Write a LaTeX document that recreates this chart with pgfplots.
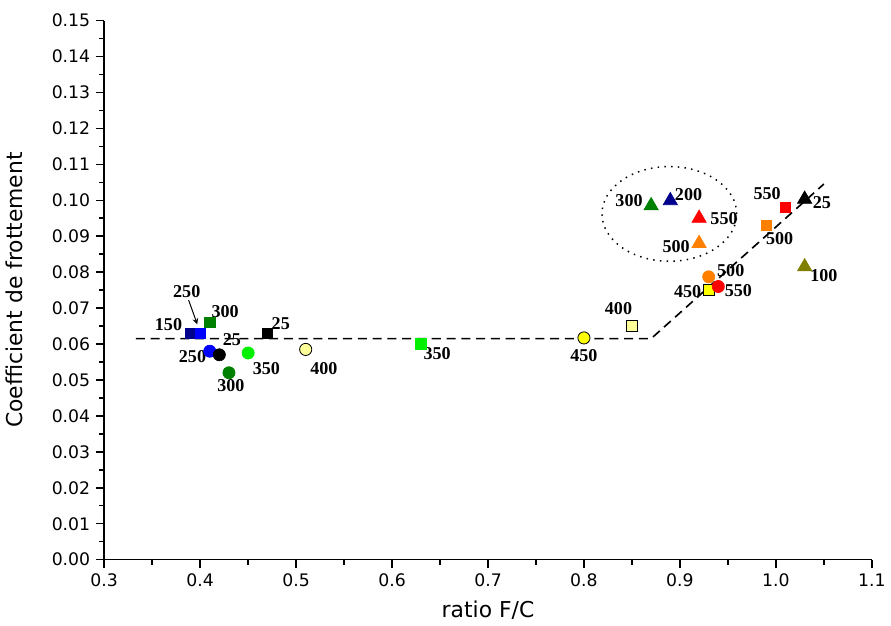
\documentclass[border=0pt]{standalone}
\usepackage{fontspec}
\setmainfont{DejaVu Sans}
\newfontfamily\lblfont{Liberation Serif}
\usepackage{pgfplots}
\pgfplotsset{compat=1.18}
\definecolor{navyA}{RGB}{0,0,140}
\definecolor{blueA}{RGB}{0,0,255}
\definecolor{greenA}{RGB}{0,128,0}
\definecolor{limeA}{RGB}{0,240,0}
\definecolor{lyel}{RGB}{255,255,153}
\definecolor{yelA}{RGB}{255,255,0}
\definecolor{orA}{RGB}{255,128,0}
\definecolor{redA}{RGB}{255,0,0}
\definecolor{oliveA}{RGB}{128,128,0}
\begin{document}
\begin{tikzpicture}
\begin{axis}[
  scale only axis, width=467pt, height=328pt,
  xmin=0.3, xmax=1.1, ymin=0, ymax=0.15,
  axis lines=left, axis line style={-, line width=0.9pt},
  tick align=outside, tick style={black, line width=0.9pt},
  major tick length=5pt, minor tick length=3pt,
  xtick={0.3,0.4,...,1.1}, ytick={0,0.01,...,0.15},
  minor x tick num=1, minor y tick num=1,
  xticklabel style={/pgf/number format/.cd, fixed, fixed zerofill, precision=1},
  yticklabel style={/pgf/number format/.cd, fixed, fixed zerofill, precision=2},
  /pgf/number format/assume math mode=true,
  ticklabel style={font=\fontsize{10.5}{12}\selectfont},
  xlabel={ratio F/C}, ylabel={Coefficient de frottement},
  label style={font=\fontsize{13.3}{15}\selectfont},
  xlabel style={yshift=-2pt},
  ylabel style={yshift=11pt},
  clip=false,
]
% dashed trend line
\addplot[black, line width=1pt, dash pattern=on 5.5pt off 3.5pt] coordinates {(0.333,0.0615)(0.87,0.0615)(1.05,0.1045)};
% squares
\addplot[only marks, mark=square*, mark size=3.2pt, navyA, mark options={fill=navyA, draw=navyA}] coordinates {(0.39,0.063)};
\addplot[only marks, mark=square*, mark size=3.2pt, blueA, mark options={fill=blueA, draw=blueA}] coordinates {(0.40,0.063)};
\addplot[only marks, mark=square*, mark size=3.2pt, greenA, mark options={fill=greenA, draw=greenA}] coordinates {(0.41,0.066)};
\addplot[only marks, mark=square*, mark size=3.2pt, black, mark options={fill=black, draw=black}] coordinates {(0.47,0.063)};
\addplot[only marks, mark=square*, mark size=3.2pt, limeA, mark options={fill=limeA, draw=limeA}] coordinates {(0.63,0.060)};
\addplot[only marks, mark=square*, mark size=3.2pt, black, mark options={fill=lyel, draw=black, line width=0.5pt}] coordinates {(0.85,0.065)};
\addplot[only marks, mark=square*, mark size=3.2pt, black, mark options={fill=yelA, draw=black, line width=0.5pt}] coordinates {(0.93,0.075)};
\addplot[only marks, mark=square*, mark size=3.2pt, orA, mark options={fill=orA, draw=orA}] coordinates {(0.99,0.093)};
\addplot[only marks, mark=square*, mark size=3.2pt, redA, mark options={fill=redA, draw=redA}] coordinates {(1.01,0.098)};
% circles
\addplot[only marks, mark=*, mark size=3.7pt, blueA, mark options={fill=blueA, draw=blueA}] coordinates {(0.41,0.058)};
\addplot[only marks, mark=*, mark size=3.7pt, black, mark options={fill=black, draw=black}] coordinates {(0.42,0.057)};
\addplot[only marks, mark=*, mark size=3.7pt, greenA, mark options={fill=greenA, draw=greenA}] coordinates {(0.43,0.052)};
\addplot[only marks, mark=*, mark size=3.7pt, limeA, mark options={fill=limeA, draw=limeA}] coordinates {(0.45,0.0575)};
\addplot[only marks, mark=*, mark size=3.7pt, black, mark options={fill=lyel, draw=black, line width=0.5pt}] coordinates {(0.51,0.0585)};
\addplot[only marks, mark=*, mark size=3.7pt, black, mark options={fill=yelA, draw=black, line width=0.5pt}] coordinates {(0.80,0.0617)};
\addplot[only marks, mark=*, mark size=3.7pt, orA, mark options={fill=orA, draw=orA}] coordinates {(0.93,0.0787)};
\addplot[only marks, mark=*, mark size=3.7pt, redA, mark options={fill=redA, draw=redA}] coordinates {(0.94,0.076)};
% triangles
\addplot[only marks, mark=triangle*, mark size=5pt, greenA, mark options={fill=greenA, draw=greenA}] coordinates {(0.87,0.0985)};
\addplot[only marks, mark=triangle*, mark size=5pt, navyA, mark options={fill=navyA, draw=navyA}] coordinates {(0.89,0.0999)};
\addplot[only marks, mark=triangle*, mark size=5pt, redA, mark options={fill=redA, draw=redA}] coordinates {(0.92,0.095)};
\addplot[only marks, mark=triangle*, mark size=5pt, orA, mark options={fill=orA, draw=orA}] coordinates {(0.92,0.088)};
\addplot[only marks, mark=triangle*, mark size=5pt, black, mark options={fill=black, draw=black}] coordinates {(1.03,0.1003)};
\addplot[only marks, mark=triangle*, mark size=5pt, oliveA, mark options={fill=oliveA, draw=oliveA}] coordinates {(1.03,0.0815)};
% ellipse
\draw[black, line width=0.9pt, dash pattern=on 0.9pt off 3.2pt] (axis cs:0.889,0.0962) ellipse [x radius=41pt, y radius=28.8pt];
% labels
\begin{scope}[every node/.style={font=\lblfont\bfseries\fontsize{11}{12}\selectfont, inner sep=0pt}]
\node at (axis cs:0.367,0.0654) {150};
\node at (axis cs:0.386,0.0745) {250};
\draw[-stealth, line width=0.6pt] (axis cs:0.388,0.0722) -- (axis cs:0.397,0.0655);
\node at (axis cs:0.426,0.069) {300};
\node at (axis cs:0.484,0.0657) {25};
\node at (axis cs:0.433,0.0612) {25};
\node at (axis cs:0.392,0.0565) {250};
\node at (axis cs:0.469,0.0531) {350};
\node at (axis cs:0.432,0.0484) {300};
\node at (axis cs:0.529,0.0531) {400};
\node at (axis cs:0.647,0.0573) {350};
\node at (axis cs:0.80,0.0567) {450};
\node at (axis cs:0.836,0.0698) {400};
\node at (axis cs:0.847,0.0999) {300};
\node at (axis cs:0.909,0.1016) {200};
\node at (axis cs:0.946,0.0949) {550};
\node at (axis cs:0.896,0.0871) {500};
\node at (axis cs:0.953,0.0804) {500};
\node at (axis cs:0.908,0.0746) {450};
\node at (axis cs:0.961,0.0749) {550};
\node at (axis cs:1.004,0.0893) {500};
\node at (axis cs:0.991,0.1018) {550};
\node at (axis cs:1.048,0.0993) {25};
\node at (axis cs:1.050,0.079) {100};
\end{scope}
\end{axis}
\path (current axis.north) ++(0,12.5pt);
\end{tikzpicture}
\end{document}
